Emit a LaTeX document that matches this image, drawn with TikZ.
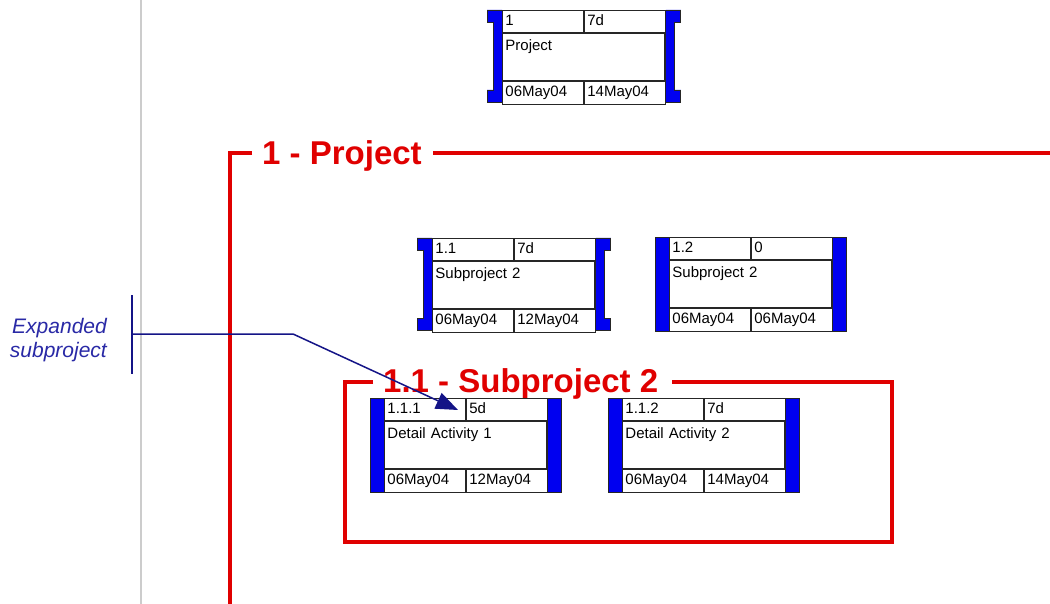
\documentclass[tikz,border=0pt]{standalone}
\usepackage{fontspec}
\setmainfont{Liberation Sans}
\usetikzlibrary{arrows.meta,positioning}

\begin{document}
\begin{tikzpicture}[x=1pt, y=-1pt, >=Latex,
    cell/.style={draw=black!85, line width=0.9pt, anchor=north west, inner xsep=3pt, inner ysep=0pt,
      minimum width=81pt, minimum height=22pt, text width=75pt, align=left,
      text height=11pt, text depth=3pt, font=\fontsize{15}{17}\selectfont},
    datecell/.style={cell, minimum height=23pt},
    namecell/.style={cell, minimum width=162pt, text width=156pt, minimum height=47pt,
      text height=14pt, text depth=27pt, inner ysep=3pt},
    bar/.style={fill=barblue, draw=black!85, line width=0.9pt},
    frame/.style={draw=framered, line width=3.8pt},
    seclabel/.style={text=framered, font=\fontsize{33}{36}\selectfont\bfseries, inner sep=0pt, anchor=base west},
    note/.style={text=noteblue, font=\fontsize{21}{24}\selectfont\itshape, align=right, inner sep=0pt, anchor=east},
    callout/.style={draw=calloutblue, line width=1.5pt}]
  \definecolor{barblue}{HTML}{0000F0}
  \definecolor{framered}{HTML}{E00000}
  \definecolor{noteblue}{HTML}{2929A6}
  \definecolor{calloutblue}{HTML}{141487}
  \fill[white] (0,0) rectangle (1050,604);
  \useasboundingbox (0,0) rectangle (1050,604);
  \draw[black!20, line width=1.6pt] (141,0) -- (141,604);

  % summary task 1
  \node[cell] (b1id) at (502,10) {1};
  \node[cell] (b1dur) at (b1id.north east) {7d};
  \node[namecell] (b1name) at (b1id.south west) {Project};
  \node[datecell] (b1start) at (b1name.south west) {06May04};
  \node[datecell] (b1end) at (b1start.north east) {14May04};
  \filldraw[bar] (b1id.north west) -- ++(-15,0) -- ++(0,12) -- ++(6,0) -- ++(0,68) -- ++(-6,0) -- ++(0,12) -- ++(15,0) -- cycle;
  \filldraw[bar] (b1dur.north east) -- ++(15,0) -- ++(0,12) -- ++(-6,0) -- ++(0,68) -- ++(6,0) -- ++(0,12) -- ++(-15,0) -- cycle;

  % frame 1 - Project
  \node[seclabel] (lbl1) at (262,165) {1 - Project};
  \draw[frame] (252,153) -- (230,153) -- (230,610);
  \draw[frame] (433,153) -- (1056,153);

  % summary task 1.1
  \node[cell] (b11id) at (432,238) {1.1};
  \node[cell] (b11dur) at (b11id.north east) {7d};
  \node[namecell] (b11name) at (b11id.south west) {Subproject 2};
  \node[datecell] (b11start) at (b11name.south west) {06May04};
  \node[datecell] (b11end) at (b11start.north east) {12May04};
  \filldraw[bar] (b11id.north west) -- ++(-15,0) -- ++(0,12) -- ++(6,0) -- ++(0,68) -- ++(-6,0) -- ++(0,12) -- ++(15,0) -- cycle;
  \filldraw[bar] (b11dur.north east) -- ++(15,0) -- ++(0,12) -- ++(-6,0) -- ++(0,68) -- ++(6,0) -- ++(0,12) -- ++(-15,0) -- cycle;

  % task 1.2
  \node[cell] (b12id) at (669,237) {1.2};
  \node[cell] (b12dur) at (b12id.north east) {0};
  \node[namecell] (b12name) at (b12id.south west) {Subproject 2};
  \node[datecell] (b12start) at (b12name.south west) {06May04};
  \node[datecell] (b12end) at (b12start.north east) {06May04};
  \filldraw[bar] (b12id.north west) rectangle ([xshift=-14pt]b12start.south west);
  \filldraw[bar] (b12dur.north east) rectangle ([xshift=14pt]b12end.south east);

  % frame 1.1 - Subproject 2
  \node[seclabel] (lbl11) at (383,392) {1.1 - Subproject 2};
  \draw[frame] (373,382) -- (345,382) -- (345,542) -- (892,542) -- (892,382) -- (672,382);

  % detail tasks
  \node[cell] (b111id) at (384,398) {1.1.1};
  \node[cell] (b111dur) at (b111id.north east) {5d};
  \node[namecell] (b111name) at (b111id.south west) {Detail Activity 1};
  \node[datecell] (b111start) at (b111name.south west) {06May04};
  \node[datecell] (b111end) at (b111start.north east) {12May04};
  \filldraw[bar] (b111id.north west) rectangle ([xshift=-14pt]b111start.south west);
  \filldraw[bar] (b111dur.north east) rectangle ([xshift=14pt]b111end.south east);

  \node[cell] (b112id) at (622,398) {1.1.2};
  \node[cell] (b112dur) at (b112id.north east) {7d};
  \node[namecell] (b112name) at (b112id.south west) {Detail Activity 2};
  \node[datecell] (b112start) at (b112name.south west) {06May04};
  \node[datecell] (b112end) at (b112start.north east) {14May04};
  \filldraw[bar] (b112id.north west) rectangle ([xshift=-14pt]b112start.south west);
  \filldraw[bar] (b112dur.north east) rectangle ([xshift=14pt]b112end.south east);

  % callout
  \node[note] (note) at (107,340) {Expanded\\subproject};
  \coordinate (calltop) at (132,295);
  \coordinate (callbot) at (132,374);
  \coordinate (callmid) at (132,334);
  \coordinate (callbend) at (293,334);
  \coordinate (calltip) at (458,410);
  \draw[callout] (calltop) -- (callbot);
  \draw[callout, -{Triangle[length=22pt, width=17pt]}] (callmid) -- (callbend) -- (calltip);
\end{tikzpicture}
\end{document}
